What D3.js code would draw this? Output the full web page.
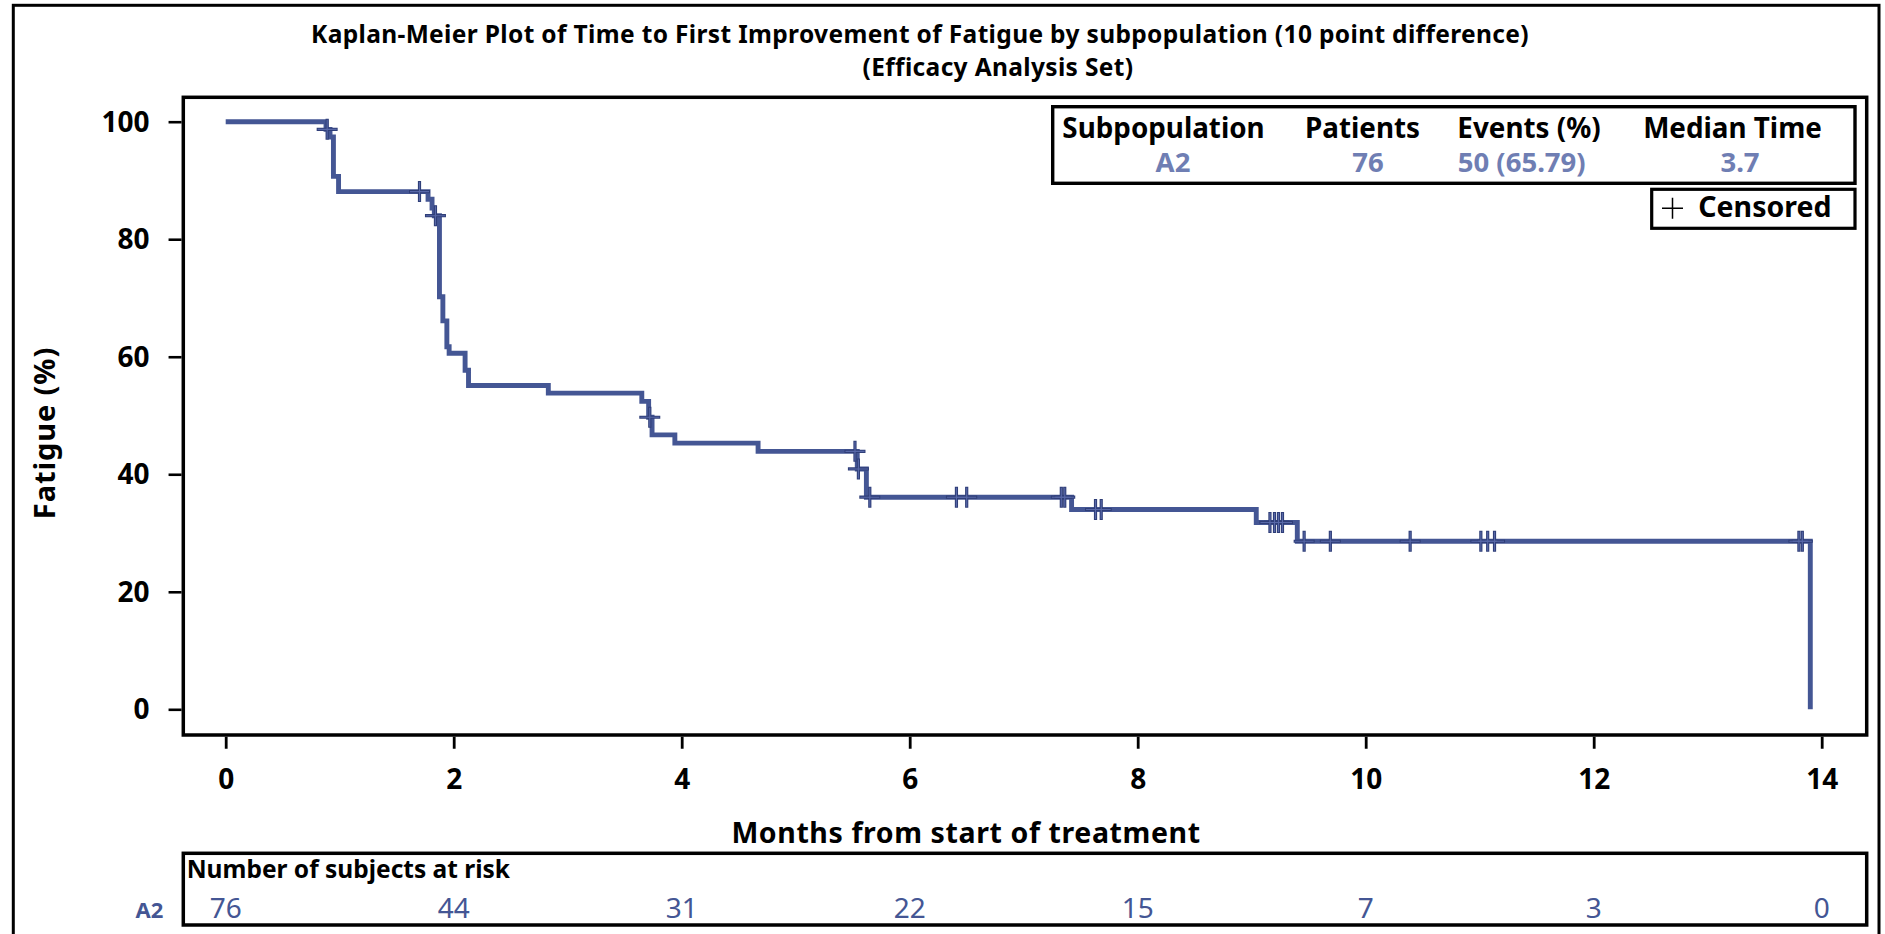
<!DOCTYPE html>
<html>
<head>
<meta charset="utf-8">
<script src="https://cdn.jsdelivr.net/npm/d3@7"></script>
<style>
  html, body { margin: 0; padding: 0; background: #fff; overflow: hidden; }
  svg text { font-family: "Noto Sans", "Open Sans", sans-serif; }
</style>
</head>
<body>
<svg id="chart" width="1885" height="934"></svg>
<script>
// Kaplan-Meier estimate for subpopulation A2 (survival in %, after each event time)
const eventTimes  = [0.88, 0.915, 0.945, 0.99, 1.775, 1.81, 1.83, 1.875, 1.905, 1.94, 1.96,
                     2.10, 2.13, 2.83, 3.65, 3.71, 3.74, 3.94, 4.67, 5.54, 5.62, 7.42,
                     9.04, 9.40, 13.90];
const survivalPct = [98.7, 97.4, 90.7, 88.1, 86.8, 85.3, 84.0, 70.2, 66.1, 61.7, 60.6,
                     57.7, 55.1, 53.8, 52.4, 49.7, 46.7, 45.3, 43.9, 40.9, 36.1, 34.0,
                     31.8, 28.6, 0];
// Censoring times (months)
const censorTimes = [0.89, 1.70, 1.84, 3.72, 5.52, 5.55, 5.65, 6.41, 6.50, 7.33, 7.36,
                     7.63, 7.68, 9.16, 9.20, 9.235, 9.27, 9.46, 9.69, 10.39, 11.01,
                     11.07, 11.13, 13.80, 13.83];

const xTickValues = [0, 2, 4, 6, 8, 10, 12, 14];
const yTickValues = [0, 20, 40, 60, 80, 100];

// Number at risk
const riskTimes  = [0, 2, 4, 6, 8, 10, 12, 14];
const riskCounts = [76, 44, 31, 22, 15, 7, 3, 0];

// Summary inset
const legendHeaders = ["Subpopulation", "Patients", "Events (%)", "Median Time"];
const legendValues  = ["A2", "76", "50 (65.79)", "3.7"];
const groupName = "A2";

const titleLines = [
  "Kaplan-Meier Plot of Time to First Improvement of Fatigue by subpopulation (10 point difference)",
  "(Efficacy Analysis Set)"
];
const xTitle = "Months from start of treatment";
const yTitle = "Fatigue (%)";
const riskTitle = "Number of subjects at risk";
const censorLabel = "Censored";

const lineColor = "#445694";
const valueColor = "#6F7EB3";

const svg = d3.select("#chart");

// scales
const x = d3.scaleLinear().domain([0, 14]).range([225.7, 1821.7]);
const y = d3.scaleLinear().domain([0, 100]).range([709.3, 121.7]);

const frame = { left: 183.3, top: 97.3, right: 1866.7, bottom: 735 };

// outer border
svg.append("rect")
  .attr("x", 13.3).attr("y", 5.3)
  .attr("width", 1879 - 13.3).attr("height", 1000)
  .attr("fill", "none").attr("stroke", "#000").attr("stroke-width", 3);

// titles
const titleCenters = [920, 998];
const titleBaselines = [42.7, 76.3];
svg.selectAll("text.title").data(titleLines).join("text")
  .attr("class", "title")
  .attr("x", (d, i) => titleCenters[i])
  .attr("y", (d, i) => titleBaselines[i])
  .attr("text-anchor", "middle")
  .attr("font-size", 24.5).attr("font-weight", 700)
  .attr("letter-spacing", 0.35)
  .text(d => d);

// plot frame
svg.append("rect")
  .attr("x", frame.left).attr("y", frame.top)
  .attr("width", frame.right - frame.left).attr("height", frame.bottom - frame.top)
  .attr("fill", "none").attr("stroke", "#000").attr("stroke-width", 3.5);

// y axis
const yAxis = svg.append("g")
  .attr("transform", `translate(${frame.left - 1.75},0)`)
  .call(d3.axisLeft(y).tickValues(yTickValues).tickSize(13).tickSizeOuter(0).tickPadding(19));
yAxis.select(".domain").remove();
yAxis.selectAll(".tick line").attr("stroke", "#000").attr("stroke-width", 2.6);
yAxis.selectAll(".tick text")
  .attr("font-family", "Noto Sans").attr("font-size", 28).attr("font-weight", 700)
  .attr("fill", "#000").attr("dy", "0.34em");

// x axis
const xAxis = svg.append("g")
  .attr("transform", `translate(0,${frame.bottom + 1.75})`)
  .call(d3.axisBottom(x).tickValues(xTickValues).tickSize(12).tickSizeOuter(0).tickPadding(20));
xAxis.select(".domain").remove();
xAxis.selectAll(".tick line").attr("stroke", "#000").attr("stroke-width", 2.8);
xAxis.selectAll(".tick text")
  .attr("font-family", "Noto Sans").attr("font-size", 28).attr("font-weight", 700)
  .attr("fill", "#000");

// axis titles
svg.append("text")
  .attr("x", 966).attr("y", 843)
  .attr("text-anchor", "middle")
  .attr("font-size", 28.5).attr("font-weight", 700)
  .attr("letter-spacing", 0.6)
  .text(xTitle);

svg.append("text")
  .attr("transform", "translate(55,433) rotate(-90)")
  .attr("text-anchor", "middle")
  .attr("font-size", 29).attr("font-weight", 700)
  .attr("letter-spacing", 0.9)
  .text(yTitle);

// survival step curve
const kmPoints = [[0, 100]].concat(eventTimes.map((t, i) => [t, survivalPct[i]]));
const stepLine = d3.line().x(d => x(d[0])).y(d => y(d[1])).curve(d3.curveStepAfter);
svg.append("path")
  .datum(kmPoints)
  .attr("d", stepLine)
  .attr("fill", "none")
  .attr("stroke", lineColor)
  .attr("stroke-width", 4.9)
  .attr("stroke-linejoin", "miter");

// censor marks at the survival level in effect
function survivalAt(t) {
  let s = 100;
  eventTimes.forEach((et, i) => { if (et <= t) s = survivalPct[i]; });
  return s;
}
const plusPath = "M-10.5,0H10.5M0,-10.5V10.5";
const censorG = svg.append("g");
censorG.selectAll("path.c-outer").data(censorTimes).join("path")
  .attr("class", "c-outer")
  .attr("transform", d => `translate(${x(d)},${y(survivalAt(d))})`)
  .attr("d", plusPath)
  .attr("stroke", "#2F3E78").attr("stroke-width", 3.2).attr("fill", "none");
censorG.selectAll("path.c-inner").data(censorTimes).join("path")
  .attr("class", "c-inner")
  .attr("transform", d => `translate(${x(d)},${y(survivalAt(d))})`)
  .attr("d", "M-9.5,0H9.5M0,-9.5V9.5")
  .attr("stroke", "#5868A8").attr("stroke-width", 1.1).attr("fill", "none");

// summary inset
svg.append("rect")
  .attr("x", 1052.7).attr("y", 106.7)
  .attr("width", 1855 - 1052.7).attr("height", 183.3 - 106.7)
  .attr("fill", "#fff").attr("stroke", "#000").attr("stroke-width", 3.4);
const headerCenters = [1163.5, 1362.5, 1529, 1732.5];
const valueCenters  = [1173, 1368, 1521.7, 1740];
svg.selectAll("text.lh").data(legendHeaders).join("text")
  .attr("class", "lh")
  .attr("x", (d, i) => headerCenters[i]).attr("y", 137.7)
  .attr("text-anchor", "middle")
  .attr("font-size", 27.8).attr("font-weight", 700)
  .text(d => d);
svg.selectAll("text.lv").data(legendValues).join("text")
  .attr("class", "lv")
  .attr("x", (d, i) => valueCenters[i]).attr("y", 172.3)
  .attr("text-anchor", "middle")
  .attr("font-size", 27.5).attr("font-weight", 700)
  .attr("fill", valueColor)
  .text(d => d);

// censored key
svg.append("rect")
  .attr("x", 1651.7).attr("y", 189.3)
  .attr("width", 1855 - 1651.7).attr("height", 228.3 - 189.3)
  .attr("fill", "#fff").attr("stroke", "#000").attr("stroke-width", 3.2);
svg.append("path")
  .attr("transform", "translate(1672.5,208.3)")
  .attr("d", plusPath)
  .attr("stroke", "#000").attr("stroke-width", 1.5).attr("fill", "none");
svg.append("text")
  .attr("x", 1698.3).attr("y", 216.7)
  .attr("font-size", 28.5).attr("font-weight", 700)
  .text(censorLabel);

// number at risk table
svg.append("rect")
  .attr("x", frame.left).attr("y", 853.3)
  .attr("width", frame.right - frame.left).attr("height", 925 - 853.3)
  .attr("fill", "none").attr("stroke", "#000").attr("stroke-width", 3.5);
svg.append("text")
  .attr("x", 186.7).attr("y", 878.3)
  .attr("font-size", 24.5).attr("font-weight", 700)
  .text(riskTitle);
svg.append("text")
  .attr("x", 149.5).attr("y", 918.3)
  .attr("text-anchor", "middle")
  .attr("font-size", 22).attr("font-weight", 700)
  .attr("fill", lineColor)
  .text(groupName);
svg.selectAll("text.risk").data(riskCounts).join("text")
  .attr("class", "risk")
  .attr("x", (d, i) => x(riskTimes[i])).attr("y", 918.3)
  .attr("text-anchor", "middle")
  .attr("font-size", 28).attr("font-weight", 400)
  .attr("fill", lineColor)
  .text(d => d);
</script>
</body>
</html>
